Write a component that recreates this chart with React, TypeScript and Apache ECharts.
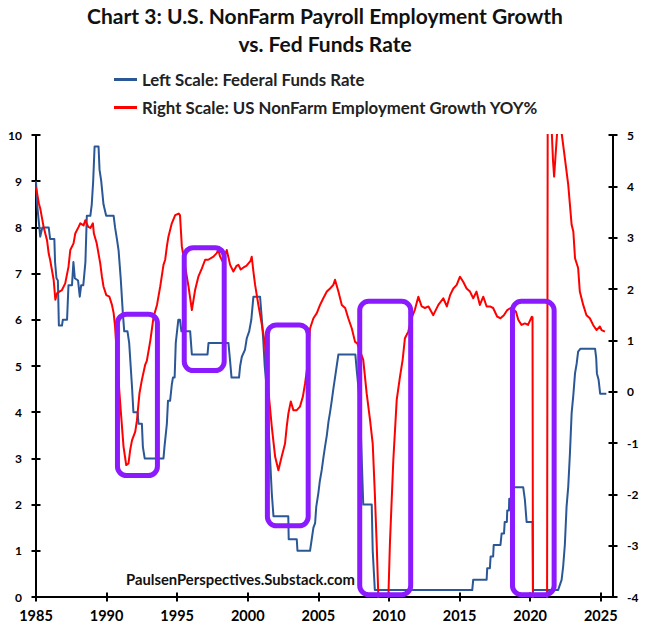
import { useEffect, useRef } from "react";
import * as echarts from "echarts";

const FONT = "Lato, 'Open Sans', sans-serif";

const titleLines = ["Chart 3: U.S. NonFarm Payroll Employment Growth", "vs. Fed Funds Rate"];
const seriesNames = ["Left Scale: Federal Funds Rate", "Right Scale: US NonFarm Employment Growth YOY%"];
const sourceNote = "PaulsenPerspectives.Substack.com";

const yearTicks = [1985, 1990, 1995, 2000, 2005, 2010, 2015, 2020, 2025];
const yearRange = [1985, 2025.87];
const leftScale = { min: 0, max: 10, interval: 1 };
const rightScale = { min: -4, max: 5, interval: 1 };

// Federal funds target rate, [year, %]
const fedFundsRate: [number, number][] = [
  [1985.0, 9.0], [1985.08, 8.5], [1985.3, 7.8], [1985.45, 8.0], [1985.9, 8.0], [1986.0, 7.75],
  [1986.3, 7.75], [1986.35, 7.25], [1986.45, 6.9], [1986.55, 6.85], [1986.62, 5.875], [1986.84, 5.875],
  [1986.9, 6.0], [1987.2, 6.0], [1987.3, 6.75], [1987.55, 6.75], [1987.65, 7.25], [1987.75, 6.9],
  [1987.98, 6.85], [1988.1, 6.5], [1988.2, 6.75], [1988.35, 6.75], [1988.5, 7.25], [1988.6, 8.25],
  [1988.85, 8.25], [1988.95, 8.5], [1989.05, 9.0], [1989.15, 9.75], [1989.43, 9.75], [1989.5, 9.25],
  [1989.62, 9.0], [1989.78, 8.5], [1989.97, 8.25], [1990.5, 8.25], [1990.6, 8.0], [1990.73, 7.75],
  [1990.85, 7.5], [1991.0, 6.9], [1991.15, 6.15], [1991.25, 5.75], [1991.48, 5.75], [1991.6, 5.5],
  [1991.8, 4.55], [1991.9, 4.0], [1992.2, 4.0], [1992.26, 3.75], [1992.5, 3.75], [1992.57, 3.25],
  [1992.7, 3.0], [1994.03, 3.0], [1994.1, 3.25], [1994.27, 3.75], [1994.35, 4.25], [1994.5, 4.25],
  [1994.62, 4.6], [1994.7, 4.75], [1994.82, 4.75], [1994.9, 5.5], [1995.08, 6.0], [1995.2, 6.0],
  [1995.3, 5.75], [1995.92, 5.75], [1996.04, 5.25], [1997.15, 5.25], [1997.22, 5.5], [1998.63, 5.5],
  [1998.75, 5.1], [1998.85, 4.75], [1999.38, 4.75], [1999.46, 5.0], [1999.58, 5.2], [1999.8, 5.35],
  [1999.93, 5.6], [2000.1, 5.75], [2000.25, 6.0], [2000.4, 6.5], [2000.87, 6.5], [2001.0, 6.0],
  [2001.1, 5.55], [2001.2, 5.0], [2001.35, 4.5], [2001.46, 3.8], [2001.58, 3.0], [2001.7, 2.25],
  [2001.82, 1.75], [2002.87, 1.75], [2002.9, 1.25], [2003.47, 1.25], [2003.52, 1.0], [2004.41, 1.0],
  [2004.53, 1.25], [2004.65, 1.5], [2004.77, 1.6], [2004.85, 1.95], [2005.0, 2.25], [2005.1, 2.5],
  [2005.24, 2.75], [2005.35, 3.0], [2005.47, 3.25], [2005.6, 3.5], [2005.72, 3.8], [2005.83, 4.0],
  [2005.95, 4.25], [2006.06, 4.5], [2006.18, 4.75], [2006.3, 5.0], [2006.42, 5.25], [2007.62, 5.25],
  [2007.72, 4.9], [2007.85, 4.5], [2007.95, 4.1], [2008.07, 3.0], [2008.18, 2.0], [2008.78, 2.0],
  [2008.85, 1.0], [2009.0, 0.15], [2015.9, 0.15], [2015.97, 0.375], [2016.92, 0.375], [2016.96, 0.625],
  [2017.15, 0.625], [2017.2, 0.875], [2017.38, 0.875], [2017.42, 1.125], [2017.9, 1.125], [2017.98, 1.375],
  [2018.15, 1.375], [2018.2, 1.625], [2018.35, 1.625], [2018.38, 1.875], [2018.5, 1.875], [2018.52, 2.125],
  [2018.65, 2.125], [2018.69, 2.375], [2019.51, 2.375], [2019.63, 2.1], [2019.75, 1.625], [2020.17, 1.625],
  [2020.2, 0.15], [2021.98, 0.15], [2022.15, 0.3], [2022.23, 0.37], [2022.34, 0.66], [2022.46, 1.13],
  [2022.58, 1.95], [2022.7, 2.39], [2022.82, 3.11], [2022.94, 3.98], [2023.06, 4.37], [2023.18, 4.84],
  [2023.3, 5.06], [2023.4, 5.31], [2023.57, 5.375], [2024.6, 5.375], [2024.68, 5.17], [2024.73, 4.84],
  [2024.85, 4.7], [2024.96, 4.4], [2025.4, 4.4],
];

// Nonfarm payroll employment, year-over-year % change, [year, %]
const payrollGrowthYoY: [number, number][] = [
  [1985.0, 3.99], [1985.2, 3.67], [1985.3, 3.57], [1985.54, 3.21], [1985.78, 2.95], [1985.9, 2.69],
  [1986.0, 2.57], [1986.25, 2.18], [1986.37, 1.79], [1986.5, 1.92], [1986.65, 1.95], [1986.84, 1.98],
  [1987.07, 2.11], [1987.3, 2.43], [1987.43, 2.76], [1987.66, 2.89], [1987.78, 3.08], [1988.02, 3.21],
  [1988.14, 3.28], [1988.37, 3.24], [1988.49, 3.34], [1988.7, 3.21], [1988.85, 3.19], [1989.03, 3.28],
  [1989.1, 3.08], [1989.3, 2.89], [1989.55, 2.5], [1989.67, 2.24], [1989.78, 2.05], [1989.98, 1.88],
  [1990.2, 1.85], [1990.38, 1.69], [1990.5, 1.53], [1990.6, 1.27], [1990.85, 0.21], [1991.0, -0.36],
  [1991.2, -1.07], [1991.39, -1.43], [1991.55, -1.4], [1991.67, -1.14], [1991.8, -0.95], [1992.03, -0.78],
  [1992.15, -0.56], [1992.33, -0.03], [1992.5, 0.23], [1992.73, 0.52], [1992.85, 0.6], [1993.1, 1.0],
  [1993.33, 1.46], [1993.57, 1.69], [1993.8, 2.05], [1994.03, 2.47], [1994.15, 2.57], [1994.27, 2.83],
  [1994.38, 3.02], [1994.62, 3.28], [1994.86, 3.44], [1995.1, 3.47], [1995.2, 3.44], [1995.33, 2.83],
  [1995.57, 2.43], [1995.8, 2.05], [1996.04, 1.59], [1996.27, 1.98], [1996.5, 2.24], [1996.75, 2.4],
  [1996.98, 2.57], [1997.2, 2.57], [1997.57, 2.63], [1997.8, 2.7], [1997.92, 2.76], [1998.04, 2.63],
  [1998.23, 2.53], [1998.51, 2.76], [1998.75, 2.47], [1998.98, 2.34], [1999.2, 2.45], [1999.34, 2.47],
  [1999.5, 2.38], [1999.7, 2.42], [1999.9, 2.45], [2000.05, 2.5], [2000.2, 2.55], [2000.28, 2.63],
  [2000.4, 2.34], [2000.52, 2.08], [2000.75, 1.69], [2001.0, 1.3], [2001.23, 0.91], [2001.46, 0.03],
  [2001.7, -0.68], [2001.94, -1.27], [2002.17, -1.53], [2002.4, -1.27], [2002.64, -1.01], [2002.76, -0.68],
  [2002.88, -0.42], [2003.05, -0.19], [2003.23, -0.36], [2003.47, -0.36], [2003.7, -0.29], [2003.9, -0.1],
  [2004.06, 0.16], [2004.22, 0.49], [2004.41, 1.23], [2004.65, 1.43], [2004.89, 1.53], [2005.12, 1.69],
  [2005.35, 1.82], [2005.6, 1.95], [2005.83, 2.01], [2006.06, 2.08], [2006.18, 2.18], [2006.42, 1.95],
  [2006.66, 1.69], [2006.9, 1.63], [2007.12, 1.43], [2007.37, 1.23], [2007.6, 0.97], [2007.76, 0.94],
  [2008.18, 0.62], [2008.42, -0.03], [2008.66, -0.55], [2008.85, -1.01], [2009.0, -1.98], [2009.13, -2.95],
  [2009.25, -4.0], [2009.6, -5.0], [2009.96, -4.0], [2010.07, -2.95], [2010.31, -1.33], [2010.55, -0.16],
  [2010.78, 0.29], [2010.97, 0.62], [2011.13, 1.04], [2011.37, 1.17], [2011.6, 1.43], [2011.84, 1.6],
  [2012.08, 1.85], [2012.32, 1.66], [2012.55, 1.63], [2012.8, 1.66], [2013.14, 1.49], [2013.5, 1.69],
  [2013.85, 1.82], [2014.1, 1.66], [2014.33, 1.88], [2014.56, 2.01], [2014.8, 2.08], [2015.03, 2.24],
  [2015.26, 2.14], [2015.5, 2.01], [2015.74, 1.95], [2015.97, 1.82], [2016.2, 1.95], [2016.44, 1.69],
  [2016.68, 1.85], [2016.92, 1.66], [2017.15, 1.66], [2017.38, 1.63], [2017.67, 1.46], [2017.9, 1.43],
  [2018.14, 1.49], [2018.38, 1.59], [2018.62, 1.63], [2018.8, 1.6], [2018.99, 1.56], [2019.16, 1.4],
  [2019.39, 1.3], [2019.63, 1.33], [2019.85, 1.3], [2020.12, 1.46], [2020.17, 1.45], [2020.25, -13.0],
  [2020.5, -8.0], [2020.8, -6.5], [2021.0, -5.8], [2021.2, -4.4], [2021.27, 11.0], [2021.35, 9.0],
  [2021.45, 5.6], [2021.62, 4.5], [2021.7, 4.19], [2021.8, 4.6], [2021.95, 5.2], [2022.1, 5.3],
  [2022.25, 5.0], [2022.46, 4.55], [2022.7, 4.03], [2022.94, 3.25], [2023.06, 3.12], [2023.18, 2.6],
  [2023.4, 2.41], [2023.52, 1.95], [2023.76, 1.69], [2023.99, 1.49], [2024.23, 1.43], [2024.46, 1.3],
  [2024.7, 1.2], [2024.94, 1.27], [2025.06, 1.2], [2025.3, 1.17],
];

// Highlighted periods: [start year, end year, top, bottom] on the left scale
const highlightBoxes: [number, number, number, number][] = [
  [1990.77, 1993.6, 6.12, 2.63],
  [1995.5, 1998.33, 7.56, 4.9],
  [2001.39, 2004.28, 5.89, 1.54],
  [2007.93, 2011.54, 6.4, 0.05],
  [2018.75, 2021.7, 6.4, 0.05],
];

const BLUE = "#2B5797";
const RED = "#FF0000";
const PURPLE = "#8B1AFF";
const INK = "#000000";

const GRID = { left: 36, right: 37, top: 135, bottom: 42 };

export default function App() {
  const ref = useRef<HTMLDivElement>(null);

  useEffect(() => {
    if (!ref.current) return;
    const chart = echarts.init(ref.current, undefined, { renderer: "svg" });

    const tickStyle = { color: INK, width: 2 };
    const labelStyle = { color: INK, fontFamily: FONT, fontWeight: "bold" as const };

    chart.setOption({
      animation: false,
      backgroundColor: "#ffffff",
      grid: [
        { ...GRID, containLabel: false },
        { ...GRID, containLabel: false },
      ],
      legend: {
        data: seriesNames,
        orient: "vertical",
        left: 114,
        top: 70.5,
        padding: 0,
        itemGap: 10,
        itemWidth: 23,
        itemHeight: 3,
        icon: "rect",
        selectedMode: false,
        textStyle: { color: "#222", fontFamily: FONT, fontWeight: "bold", fontSize: 16.8, lineHeight: 18 },
      },
      xAxis: [
        {
          type: "value",
          gridIndex: 0,
          min: yearRange[0],
          max: yearRange[1],
          position: "bottom",
          axisLine: { show: true, onZero: false, lineStyle: tickStyle },
          axisTick: { show: true, customValues: yearTicks, length: 4.5, lineStyle: tickStyle },
          axisLabel: {
            ...labelStyle,
            customValues: yearTicks,
            fontSize: 14.5,
            margin: 11,
            formatter: (v: number) => String(Math.round(v)),
          },
          splitLine: { show: false },
        },
        {
          type: "value",
          gridIndex: 1,
          min: yearRange[0],
          max: yearRange[1],
          position: "bottom",
          axisLine: { show: false, onZero: false },
          axisTick: { show: true, inside: true, customValues: yearTicks, length: 4.5, lineStyle: tickStyle },
          axisLabel: { show: false },
          splitLine: { show: false },
        },
      ],
      yAxis: [
        {
          type: "value",
          gridIndex: 0,
          position: "left",
          ...leftScale,
          axisLine: { show: true, onZero: false, lineStyle: tickStyle },
          axisTick: { show: true, length: 4.5, lineStyle: tickStyle },
          axisLabel: { ...labelStyle, fontSize: 12, margin: 14 },
          splitLine: { show: false },
        },
        {
          type: "value",
          gridIndex: 0,
          position: "right",
          ...rightScale,
          axisLine: { show: true, onZero: false, lineStyle: tickStyle },
          axisTick: { show: true, length: 4.5, lineStyle: tickStyle },
          axisLabel: { ...labelStyle, fontSize: 12, margin: 14 },
          splitLine: { show: false },
        },
        {
          type: "value",
          gridIndex: 1,
          position: "left",
          ...leftScale,
          axisLine: { show: false, onZero: false },
          axisTick: { show: true, inside: true, length: 4.5, lineStyle: tickStyle },
          axisLabel: { show: false },
          splitLine: { show: false },
        },
        {
          type: "value",
          gridIndex: 1,
          position: "right",
          ...rightScale,
          axisLine: { show: false, onZero: false },
          axisTick: { show: true, inside: true, length: 4.5, lineStyle: tickStyle },
          axisLabel: { show: false },
          splitLine: { show: false },
        },
      ],
      graphic: [
        {
          type: "text",
          x: 325,
          y: 15,
          style: {
            text: titleLines[0],
            fill: "#111",
            font: `bold 21px ${FONT}`,
            textAlign: "center",
            textVerticalAlign: "middle",
            align: "center",
            verticalAlign: "middle",
          },
        },
        {
          type: "text",
          x: 325,
          y: 43,
          style: {
            text: titleLines[1],
            fill: "#111",
            font: `bold 21px ${FONT}`,
            textAlign: "center",
            textVerticalAlign: "middle",
            align: "center",
            verticalAlign: "middle",
          },
        },
        {
          type: "text",
          x: 126,
          y: 579,
          z: 10,
          style: {
            text: sourceNote,
            fill: "#111",
            font: `bold 14.8px ${FONT}`,
            textAlign: "left",
            textVerticalAlign: "middle",
            align: "left",
            verticalAlign: "middle",
          },
        },
      ],
      series: [
        {
          name: seriesNames[0],
          type: "line",
          xAxisIndex: 0,
          yAxisIndex: 0,
          data: fedFundsRate,
          showSymbol: false,
          symbol: "none",
          color: BLUE,
          lineStyle: { color: BLUE, width: 2, join: "round" },
          z: 2,
        },
        {
          name: seriesNames[1],
          type: "line",
          xAxisIndex: 0,
          yAxisIndex: 1,
          data: payrollGrowthYoY,
          showSymbol: false,
          symbol: "none",
          color: RED,
          lineStyle: { color: RED, width: 2, join: "round" },
          z: 3,
        },
        {
          name: "highlights",
          type: "custom",
          xAxisIndex: 0,
          yAxisIndex: 0,
          clip: false,
          silent: true,
          z: 5,
          data: highlightBoxes,
          encode: { x: [0, 1], y: [2, 3] },
          renderItem: (_params: any, api: any) => {
            const p0 = api.coord([api.value(0), api.value(2)]);
            const p1 = api.coord([api.value(1), api.value(3)]);
            return {
              type: "rect",
              shape: { x: p0[0], y: p0[1], width: p1[0] - p0[0], height: p1[1] - p0[1], r: 9 },
              style: { fill: "none", stroke: PURPLE, lineWidth: 5 },
            };
          },
        },
      ],
    });

    return () => chart.dispose();
  }, []);

  return (
    <div
      ref={ref}
      style={{ position: "absolute", left: 0, top: 0, width: 650, height: 639, background: "#fff" }}
    />
  );
}
